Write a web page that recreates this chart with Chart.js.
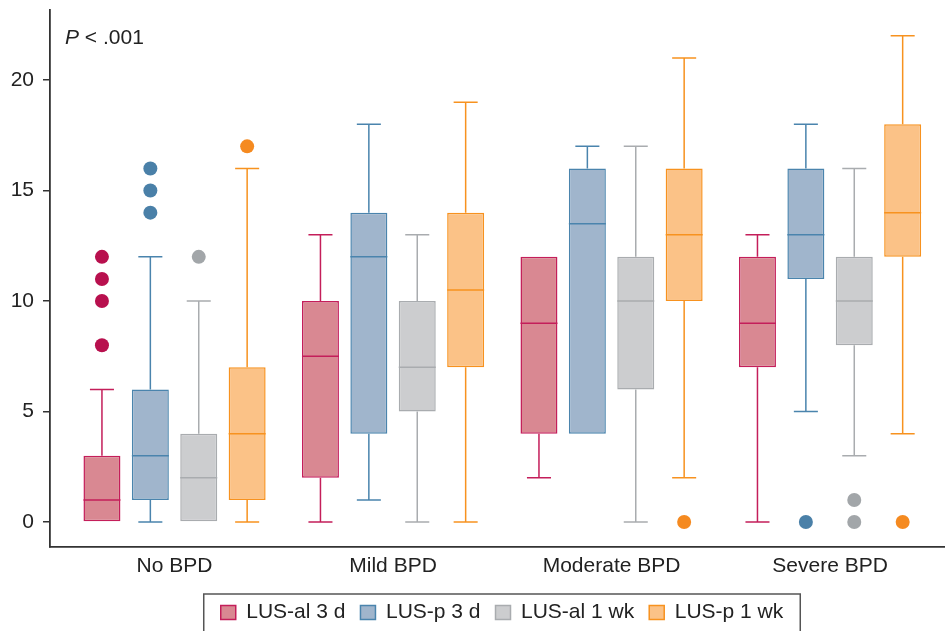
<!DOCTYPE html>
<html>
<head>
<meta charset="utf-8">
<script src="https://cdn.jsdelivr.net/npm/chart.js@4/dist/chart.umd.min.js"></script>
<style>
  html, body { margin: 0; padding: 0; background: #ffffff; }
  #wrap { width: 945px; height: 631px; }
</style>
</head>
<body>
<div id="wrap"><canvas id="c" width="945" height="631"></canvas></div>
<script>
// ---------- DATA ----------
const categories = ['No BPD', 'Mild BPD', 'Moderate BPD', 'Severe BPD'];
const seriesNames = ['LUS-al 3 d', 'LUS-p 3 d', 'LUS-al 1 wk', 'LUS-p 1 wk'];
const yTickValues = [0, 5, 10, 15, 20];
const pValueText = '< .001';

// LUS-al 3 d
const al3Min = [0, 0, 2, 0];
const al3Q1 = [0, 2, 4, 7];
const al3Med = [1, 7.5, 9, 9];
const al3Q3 = [3, 10, 12, 12];
const al3Max = [6, 13, 12, 13];
const al3Out = [[8, 10, 11, 12], [], [], []];

// LUS-p 3 d
const p3Min = [0, 1, 4, 5];
const p3Q1 = [1, 4, 4, 11];
const p3Med = [3, 12, 13.5, 13];
const p3Q3 = [6, 14, 16, 16];
const p3Max = [12, 18, 17, 18];
const p3Out = [[14, 15, 16], [], [], [0]];

// LUS-al 1 wk
const al1Min = [0, 0, 0, 3];
const al1Q1 = [0, 5, 6, 8];
const al1Med = [2, 7, 10, 10];
const al1Q3 = [4, 10, 12, 12];
const al1Max = [10, 13, 17, 16];
const al1Out = [[12], [], [], [0, 1]];

// LUS-p 1 wk
const p1Min = [0, 0, 2, 4];
const p1Q1 = [1, 7, 10, 12];
const p1Med = [4, 10.5, 13, 14];
const p1Q3 = [7, 14, 16, 18];
const p1Max = [16, 19, 21, 22];
const p1Out = [[17], [], [0], [0]];

// ---------- STYLE ----------
const fills = ['#D98892', '#A0B5CC', '#CCCDCF', '#FBC287'];
const strokes = ['#C41E5A', '#4A84AD', '#A9ACAF', '#F7921F'];
const dotColors = ['#B8104E', '#4A80A8', '#A2A6A9', '#F58A20'];
const FONT = "'Liberation Sans', Arial, Helvetica, sans-serif";
const FS = 21;
const TEXT = '#222222';
const AXIS = '#333333';
const LEGEND_SHIFT = 4.5;

const stats = [
  { min: al3Min, q1: al3Q1, med: al3Med, q3: al3Q3, max: al3Max, out: al3Out },
  { min: p3Min, q1: p3Q1, med: p3Med, q3: p3Q3, max: p3Max, out: p3Out },
  { min: al1Min, q1: al1Q1, med: al1Med, q3: al1Q3, max: al1Max, out: al1Out },
  { min: p1Min, q1: p1Q1, med: p1Med, q3: p1Q3, max: p1Max, out: p1Out }
];

const datasets = seriesNames.map((name, s) => ({
  label: name,
  data: categories.map((c, i) => ({ x: i, y: [stats[s].q1[i], stats[s].q3[i]] })),
  backgroundColor: fills[s],
  borderColor: strokes[s],
  borderWidth: 1.5,
  borderSkipped: false,
  categoryPercentage: 0.886,
  barPercentage: 0.764
}));

// whiskers, medians and outliers drawn from the bar elements and the y scale
const boxPlotPlugin = {
  id: 'boxPlot',
  afterDatasetsDraw(chart) {
    const ctx = chart.ctx;
    const yS = chart.scales.y;
    ctx.save();
    chart.data.datasets.forEach((ds, s) => {
      const meta = chart.getDatasetMeta(s);
      const st = stats[s];
      meta.data.forEach((el, i) => {
        const x = el.x;
        const w = el.width;
        const cap = w * 0.65;
        const yQ1 = yS.getPixelForValue(st.q1[i]);
        const yQ3 = yS.getPixelForValue(st.q3[i]);
        const yMin = yS.getPixelForValue(st.min[i]);
        const yMax = yS.getPixelForValue(st.max[i]);
        const yMed = yS.getPixelForValue(st.med[i]);
        ctx.strokeStyle = strokes[s];
        ctx.lineWidth = 1.5;
        ctx.beginPath();
        if (st.max[i] > st.q3[i]) {
          ctx.moveTo(x, yQ3); ctx.lineTo(x, yMax);
          ctx.moveTo(x - cap / 2, yMax); ctx.lineTo(x + cap / 2, yMax);
        }
        if (st.min[i] < st.q1[i]) {
          ctx.moveTo(x, yQ1); ctx.lineTo(x, yMin);
          ctx.moveTo(x - cap / 2, yMin); ctx.lineTo(x + cap / 2, yMin);
        }
        ctx.moveTo(x - w / 2, yMed); ctx.lineTo(x + w / 2, yMed);
        ctx.stroke();
        ctx.fillStyle = dotColors[s];
        st.out[i].forEach(v => {
          ctx.beginPath();
          ctx.arc(x, yS.getPixelForValue(v), 7, 0, Math.PI * 2);
          ctx.fill();
        });
      });
    });
    ctx.restore();
  }
};

const annotPlugin = {
  id: 'annot',
  beforeDraw(chart) {
    const lg = chart.legend;
    if (lg && !lg._shifted) {
      lg.left += LEGEND_SHIFT;
      lg.right += LEGEND_SHIFT;
      lg._shifted = true;
    }
  },
  afterDraw(chart) {
    const ctx = chart.ctx;
    ctx.save();
    ctx.fillStyle = TEXT;
    ctx.textBaseline = 'alphabetic';
    ctx.textAlign = 'left';
    ctx.font = 'italic ' + FS + 'px ' + FONT;
    ctx.fillText('P', 65, 44);
    const wP = ctx.measureText('P ').width;
    ctx.font = FS + 'px ' + FONT;
    ctx.fillText(pValueText, 65 + wP, 44);
    // legend frame
    const lg = chart.legend;
    if (lg && lg.legendHitBoxes && lg.legendHitBoxes.length) {
      const hb = lg.legendHitBoxes;
      const first = hb[0], last = hb[hb.length - 1];
      const left = first.left + LEGEND_SHIFT - 17;
      const right = last.left + LEGEND_SHIFT + last.width + 17;
      ctx.strokeStyle = '#555555';
      ctx.lineWidth = 1.5;
      ctx.strokeRect(left, 594, right - left, 60);
    }
    ctx.restore();
  }
};

Chart.defaults.font.family = FONT;
Chart.defaults.font.size = FS;
Chart.defaults.color = TEXT;

function zeroPad(scale) {
  scale.paddingTop = 0; scale.paddingBottom = 0;
  scale.paddingLeft = 0; scale.paddingRight = 0;
}

new Chart(document.getElementById('c'), {
  type: 'bar',
  data: { datasets },
  options: {
    responsive: false,
    animation: false,
    layout: { padding: { top: 10, right: 0, bottom: -2, left: 0 } },
    plugins: {
      tooltip: { enabled: false },
      legend: {
        position: 'bottom',
        fullSize: false,
        labels: {
          boxWidth: 15,
          boxHeight: 14,
          padding: 15,
          color: TEXT,
          font: { size: FS, family: FONT }
        }
      }
    },
    scales: {
      x: {
        type: 'linear',
        offset: false,
        min: -0.570,
        max: 3.526,
        afterFit(scale) { scale.height = 40; zeroPad(scale); },
        grid: { display: false, drawTicks: false },
        border: { display: true, color: AXIS, width: 1.8 },
        ticks: {
          stepSize: 1,
          includeBounds: false,
          autoSkip: false,
          maxRotation: 0,
          padding: 7,
          color: TEXT,
          font: { size: FS, family: FONT },
          callback: (v) => (Number.isInteger(v) && categories[v] !== undefined) ? categories[v] : ''
        }
      },
      y: {
        type: 'linear',
        min: -1.13,
        max: 23.17,
        afterFit(scale) { scale.width = 50; zeroPad(scale); },
        afterBuildTicks(scale) { scale.ticks = yTickValues.map(v => ({ value: v })); },
        grid: { drawOnChartArea: false, drawTicks: true, tickLength: 7, color: AXIS, lineWidth: 1.5 },
        border: { display: true, color: AXIS, width: 1.8 },
        ticks: {
          padding: 9,
          color: TEXT,
          font: { size: FS, family: FONT }
        }
      }
    }
  },
  plugins: [boxPlotPlugin, annotPlugin]
});
</script>
</body>
</html>
